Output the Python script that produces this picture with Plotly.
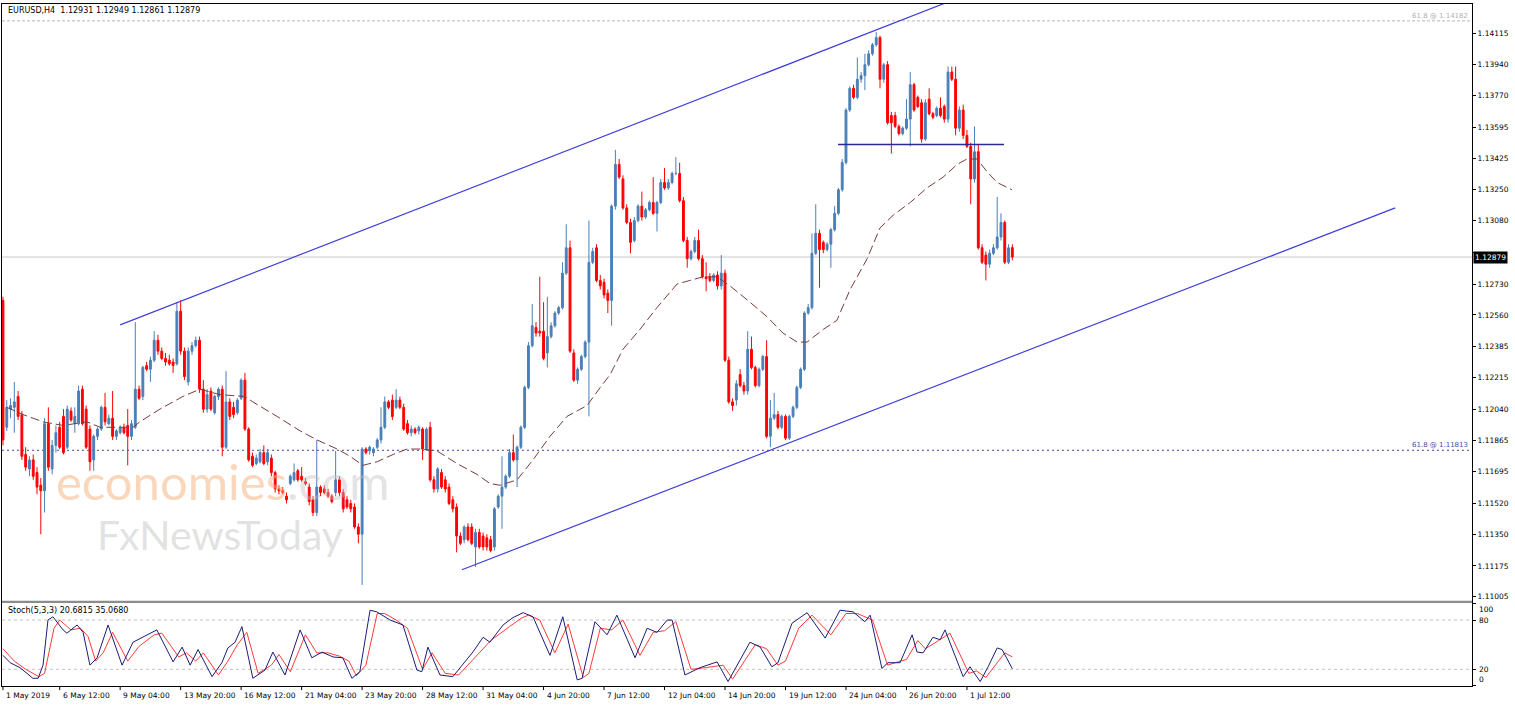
import plotly.graph_objects as go

# ---------------- data ----------------
title_text = "EURUSD,H4\u00a0\u00a01.12931 1.12949 1.12861 1.12879"
stoch_title = "Stoch(5,3,3) 20.6815 35.0680"
last_price = 1.12879
fib_top = 1.14182
fib_low = 1.11813
support_level = 1.1350

opens = [
1.1264,1.1194,1.1204,1.1205,1.1211,1.1201,1.1179,1.1171,1.1176,1.1169,
1.1162,1.1159,1.1196,1.1171,1.1184,1.1194,1.1200,1.1183,1.1203,1.1196,
1.1196,1.1215,1.1204,1.1193,1.1176,1.1189,1.1193,1.1205,1.1196,1.1199,
1.1189,1.1191,1.1194,1.1195,1.1189,1.1194,1.1215,1.1211,1.1228,1.1226,
1.1231,1.1242,1.1236,1.1232,1.1231,1.1230,1.1229,1.1258,1.1236,1.1219,
1.1236,1.1239,1.1242,1.1215,1.1204,1.1214,1.1202,1.1211,1.1215,1.1183,
1.1208,1.1205,1.1202,1.1210,1.1220,1.1193,1.1178,1.1174,1.1175,1.1180,
1.1175,1.1177,1.1169,1.1160,1.1159,1.1156,1.1163,1.1165,1.1170,1.1167,
1.1164,1.1161,1.1154,1.1147,1.1161,1.1160,1.1158,1.1156,1.1158,1.1165,
1.1158,1.1154,1.1152,1.1150,1.1139,1.1135,1.1182,1.1181,1.1180,1.1183,
1.1187,1.1194,1.1208,1.1209,1.1205,1.1209,1.1205,1.1196,1.1191,1.1193,
1.1192,1.1193,1.1182,1.1194,1.1165,1.1160,1.1169,1.1165,1.1161,1.1154,
1.1150,1.1134,1.1132,1.1139,1.1139,1.1128,1.1136,1.1134,1.1133,1.1132,
1.1128,1.1150,1.1156,1.1161,1.1167,1.1180,1.1176,1.1183,1.1194,1.1216,
1.1239,1.1249,1.1247,1.1247,1.1235,1.1244,1.1250,1.1257,1.1260,1.1279,
1.1293,1.1235,1.1220,1.1226,1.1233,1.1241,1.1285,1.1293,1.1275,1.1274,
1.1268,1.1264,1.1316,1.1339,1.1331,1.1315,1.1307,1.1297,1.1308,1.1316,
1.1310,1.1314,1.1318,1.1312,1.1318,1.1329,1.1326,1.1329,1.1334,1.1334,
1.1319,1.1297,1.1287,1.1291,1.1297,1.1287,1.1277,1.1277,1.1275,1.1278,
1.1272,1.1279,1.1231,1.1208,1.1209,1.1223,1.1217,1.1214,1.1237,1.1227,
1.1217,1.1226,1.1233,1.1189,1.1199,1.1201,1.1194,1.1200,1.1188,1.1200,
1.1205,1.1216,1.1226,1.1257,1.1260,1.1290,1.1301,1.1296,1.1292,1.1295,
1.1303,1.1312,1.1325,1.1340,1.1369,1.1381,1.1376,1.1386,1.1388,1.1394,
1.1400,1.1405,1.1409,1.1386,1.1394,1.1366,1.1366,1.1360,1.1356,1.1359,
1.1364,1.1383,1.1376,1.1373,1.1353,1.1375,1.1367,1.1366,1.1370,1.1371,
1.1364,1.1390,1.1386,1.1359,1.1369,1.1355,1.1349,1.1331,1.1346,1.1293,
1.1289,1.1284,1.1290,1.1293,1.1299,1.1307,1.1285,1.12931]

highs = [
1.1266,1.1209,1.1210,1.1219,1.1214,1.1203,1.1183,1.1178,1.1179,1.1172,
1.1166,1.1199,1.1205,1.1187,1.1195,1.1197,1.1204,1.1206,1.1205,1.1205,
1.1217,1.1217,1.1206,1.1195,1.1190,1.1194,1.1206,1.1213,1.1201,1.1214,
1.1193,1.1195,1.1196,1.1204,1.1198,1.1252,1.1217,1.1228,1.1230,1.1233,
1.1247,1.1245,1.1238,1.1235,1.1234,1.1232,1.1263,1.1264,1.1238,1.1238,
1.1241,1.1244,1.1244,1.1220,1.1215,1.1216,1.1212,1.1216,1.1217,1.1225,
1.1210,1.1208,1.1210,1.1221,1.1224,1.1194,1.1180,1.1179,1.1182,1.1184,
1.1182,1.1179,1.1170,1.1162,1.1161,1.1158,1.1168,1.1174,1.1171,1.1172,
1.1166,1.1163,1.1156,1.1187,1.1162,1.1162,1.1160,1.1157,1.1181,1.1167,
1.1160,1.1156,1.1154,1.1152,1.1141,1.1183,1.1183,1.1184,1.1183,1.1188,
1.1205,1.1211,1.1209,1.1212,1.1215,1.1211,1.1207,1.1198,1.1195,1.1194,
1.1195,1.1194,1.1194,1.1197,1.1167,1.1172,1.1171,1.1167,1.1163,1.1156,
1.1152,1.1136,1.1140,1.1141,1.1141,1.1138,1.1138,1.1136,1.1135,1.1134,
1.1150,1.1157,1.1178,1.1168,1.1182,1.1190,1.1184,1.1195,1.1217,1.1241,
1.1262,1.1252,1.1277,1.1263,1.1266,1.1252,1.1258,1.1261,1.1285,1.1306,
1.1297,1.1237,1.1227,1.1234,1.1242,1.1308,1.1293,1.1295,1.1278,1.1276,
1.1270,1.1317,1.1347,1.1342,1.1333,1.1317,1.1309,1.1310,1.1317,1.1324,
1.1315,1.1319,1.1332,1.1319,1.1331,1.1337,1.1331,1.1335,1.1343,1.1340,
1.1321,1.1299,1.1292,1.1299,1.1303,1.1289,1.1285,1.1279,1.1279,1.1280,
1.1289,1.1281,1.1233,1.1210,1.1220,1.1226,1.1219,1.1247,1.1244,1.1228,
1.1227,1.1234,1.1242,1.1209,1.1213,1.1203,1.1201,1.1201,1.1201,1.1206,
1.1217,1.1227,1.1258,1.1262,1.1301,1.1317,1.1303,1.1297,1.1296,1.1304,
1.1316,1.1326,1.1342,1.1370,1.1382,1.1383,1.1398,1.1390,1.1400,1.1402,
1.1406,1.1412,1.1410,1.1395,1.1396,1.1368,1.1368,1.1361,1.1360,1.1375,
1.1390,1.1384,1.1377,1.1375,1.1375,1.1381,1.1368,1.1371,1.1376,1.1372,
1.1393,1.1393,1.1393,1.1371,1.1372,1.1358,1.1351,1.1360,1.1350,1.1295,
1.1291,1.1292,1.1295,1.1321,1.1312,1.1308,1.1295,1.12949]

lows = [
1.1184,1.1192,1.1199,1.1191,1.1198,1.1176,1.1170,1.1167,1.1165,1.1157,
1.1135,1.1147,1.1170,1.1168,1.1180,1.1182,1.1179,1.1182,1.1197,1.1191,
1.1195,1.1195,1.1182,1.1170,1.1170,1.1187,1.1192,1.1195,1.1195,1.1187,
1.1187,1.1190,1.1190,1.1173,1.1187,1.1193,1.1209,1.1209,1.1225,1.1219,
1.1230,1.1234,1.1231,1.1228,1.1228,1.1224,1.1228,1.1234,1.1220,1.1217,
1.1234,1.1238,1.1213,1.1202,1.1202,1.1203,1.1201,1.1209,1.1178,1.1182,
1.1198,1.1199,1.1201,1.1209,1.1192,1.1175,1.1172,1.1173,1.1174,1.1173,
1.1173,1.1167,1.1158,1.1157,1.1157,1.1152,1.1162,1.1164,1.1164,1.1164,
1.1162,1.1151,1.1145,1.1145,1.1156,1.1157,1.1155,1.1152,1.1156,1.1156,
1.1147,1.1149,1.1147,1.1138,1.1130,1.1107,1.1179,1.1179,1.1178,1.1182,
1.1185,1.1193,1.1204,1.1198,1.1204,1.1204,1.1192,1.1190,1.1189,1.1190,
1.1190,1.1176,1.1181,1.1164,1.1158,1.1158,1.1160,1.1158,1.1151,1.1147,
1.1125,1.1129,1.1130,1.1131,1.1129,1.1117,1.1127,1.1126,1.1126,1.1125,
1.1126,1.1149,1.1138,1.1160,1.1166,1.1175,1.1161,1.1182,1.1193,1.1215,
1.1238,1.1244,1.1244,1.1231,1.1227,1.1243,1.1249,1.1256,1.1259,1.1278,
1.1235,1.1219,1.1218,1.1225,1.1232,1.1200,1.1284,1.1274,1.1270,1.1265,
1.1257,1.1250,1.1314,1.1331,1.1314,1.1306,1.1290,1.1296,1.1307,1.1308,
1.1309,1.1313,1.1311,1.1302,1.1317,1.1325,1.1325,1.1328,1.1333,1.1318,
1.1296,1.1282,1.1286,1.1290,1.1286,1.1276,1.1269,1.1274,1.1274,1.1270,
1.1270,1.1230,1.1207,1.1203,1.1206,1.1216,1.1212,1.1212,1.1226,1.1216,
1.1216,1.1225,1.1188,1.1183,1.1198,1.1193,1.1193,1.1187,1.1187,1.1199,
1.1204,1.1215,1.1225,1.1256,1.1259,1.1289,1.1271,1.1290,1.1291,1.1282,
1.1302,1.1311,1.1324,1.1339,1.1368,1.1375,1.1375,1.1384,1.1380,1.1393,
1.1399,1.1404,1.1381,1.1384,1.1361,1.1345,1.1359,1.1355,1.1355,1.1358,
1.1349,1.1368,1.1370,1.1351,1.1352,1.1366,1.1364,1.1365,1.1365,1.1362,
1.1362,1.1385,1.1355,1.1357,1.1353,1.1348,1.1317,1.1329,1.1292,1.1284,
1.1275,1.1282,1.1289,1.1292,1.1297,1.1284,1.1284,1.12861]

closes = [
1.1187,1.1205,1.1206,1.1208,1.1200,1.1178,1.1172,1.1176,1.1167,1.1161,
1.1159,1.1196,1.1172,1.1184,1.1191,1.1183,1.1180,1.1204,1.1198,1.1200,
1.1214,1.1196,1.1183,1.1175,1.1189,1.1193,1.1205,1.1197,1.1199,1.1189,
1.1192,1.1194,1.1191,1.1189,1.1196,1.1215,1.1210,1.1227,1.1226,1.1231,
1.1242,1.1236,1.1232,1.1230,1.1229,1.1228,1.1258,1.1236,1.1222,1.1236,
1.1239,1.1242,1.1215,1.1204,1.1212,1.1204,1.1211,1.1215,1.1183,1.1208,
1.1200,1.1201,1.1209,1.1220,1.1193,1.1176,1.1173,1.1177,1.1180,1.1174,
1.1180,1.1169,1.1160,1.1159,1.1158,1.1154,1.1167,1.1169,1.1165,1.1165,
1.1163,1.1153,1.1147,1.1161,1.1158,1.1158,1.1156,1.1153,1.1165,1.1158,
1.1149,1.1150,1.1149,1.1139,1.1135,1.1182,1.1180,1.1183,1.1182,1.1187,
1.1194,1.1208,1.1205,1.1200,1.1209,1.1205,1.1193,1.1191,1.1193,1.1191,
1.1194,1.1182,1.1193,1.1165,1.1160,1.1171,1.1161,1.1160,1.1152,1.1149,
1.1134,1.1130,1.1139,1.1132,1.1130,1.1136,1.1128,1.1128,1.1128,1.1126,
1.1149,1.1156,1.1161,1.1167,1.1180,1.1176,1.1183,1.1194,1.1216,1.1239,
1.1250,1.1246,1.1246,1.1232,1.1244,1.1250,1.1257,1.1260,1.1279,1.1293,
1.1236,1.1220,1.1226,1.1233,1.1241,1.1285,1.1291,1.1275,1.1272,1.1267,
1.1264,1.1316,1.1339,1.1332,1.1315,1.1307,1.1296,1.1308,1.1316,1.1310,
1.1314,1.1318,1.1312,1.1318,1.1329,1.1326,1.1329,1.1334,1.1334,1.1319,
1.1297,1.1287,1.1291,1.1297,1.1287,1.1277,1.1276,1.1275,1.1278,1.1272,
1.1279,1.1231,1.1208,1.1206,1.1218,1.1217,1.1214,1.1237,1.1227,1.1217,
1.1226,1.1233,1.1189,1.1199,1.1201,1.1194,1.1200,1.1188,1.1200,1.1205,
1.1216,1.1226,1.1257,1.1260,1.1290,1.1301,1.1292,1.1292,1.1295,1.1303,
1.1312,1.1325,1.1340,1.1369,1.1381,1.1376,1.1386,1.1388,1.1394,1.1400,
1.1405,1.1409,1.1386,1.1394,1.1362,1.1362,1.1360,1.1356,1.1359,1.1364,
1.1383,1.1369,1.1371,1.1353,1.1373,1.1367,1.1365,1.1370,1.1366,1.1364,
1.1390,1.1386,1.1359,1.1369,1.1355,1.1349,1.1331,1.1346,1.1293,1.1285,
1.1284,1.1290,1.1293,1.1299,1.1307,1.1285,1.1293,1.12879]

# dashed moving average (bar position, value)
ma_bar = [1, 5.3, 10.6, 15.9, 22.2, 25.7, 34.4, 36.2, 41.5, 47.6, 52.1, 57.4, 64, 66.1, 72.5, 78.6,
          83.1, 88.4, 91.8, 95.2, 99, 103.2, 106.9, 110.3, 114.8, 120.1, 125.4, 128.8, 131.5, 136,
          140.2, 144.7, 149.2, 154.5, 158, 160.6, 164, 168.5, 173, 178.3, 181.7, 185.2, 188.9,
          192.3, 197.6, 202.1, 206.3, 210.1, 212.7, 217, 220.6, 224.1, 228.6, 232, 235.5, 240,
          244.4, 248.7, 252.4, 255, 257.7, 260.3, 263, 266.9]
ma_val = [1.1205, 1.1201, 1.1197, 1.1195, 1.1197, 1.1194, 1.1194, 1.1197, 1.1204, 1.1211, 1.1215,
          1.1212, 1.1211, 1.1208, 1.1200, 1.1192, 1.1187, 1.1182, 1.1178, 1.1173, 1.1175, 1.1179,
          1.1182, 1.1182, 1.1181, 1.1174, 1.1168, 1.1163, 1.1162, 1.1165, 1.1176, 1.1189, 1.1200,
          1.1206, 1.1216, 1.1223, 1.1237, 1.1248, 1.1260, 1.1273, 1.1275, 1.1277, 1.1277, 1.1272,
          1.1263, 1.1255, 1.1246, 1.1241, 1.1241, 1.1248, 1.1253, 1.1270, 1.1287, 1.1304, 1.1311,
          1.1318, 1.1326, 1.1332, 1.1339, 1.1342, 1.1342, 1.1335, 1.1329, 1.1325]

# trend lines (bar position, price)
upper_bar = [31.0, 249.2]
upper_val = [1.12505, 1.14280]
lower_bar = [121.4, 368.3]
lower_val = [1.11154, 1.13150]
support_bar = [220.9, 264.8]

# stochastic %K (main) and %D (signal)
k_bar = [0, 1.9, 4.5, 7.9, 9.3, 10.6, 11.9, 13.2, 15.9, 16.9, 19.6, 21.2, 23, 24.9, 27.8, 31.5,
         34.4, 38.1, 40.7, 45, 47.4, 49.5, 51.6, 55.3, 57.9, 59.5, 61.4, 63.2, 66.1, 69.3, 71.4,
         74.6, 78.6, 81.7, 84.4, 87.3, 89.9, 92.3, 94.4, 97.1, 98.9, 102.4, 105.8, 109.5, 110.8,
         112.4, 115.6, 119, 124.3, 127, 128.8, 132.3, 134.9, 137.6, 140.2, 144.7, 148.1, 151.9,
         153.2, 156.6, 159.8, 162.4, 167.2, 170.4, 173, 175.7, 177, 180.4, 184.4, 188.9, 191.8,
         197.6, 200.3, 203.4, 205, 208.7, 212.7, 217.5, 221.4, 224.9, 228, 229.4, 232.5, 234.1,
         237.3, 240.5, 241.8, 243.4, 246, 247.9, 249.2, 254, 255.8, 258.5, 260.6, 263, 264.3, 267]
k_val = [37, 28, 22, 9, 9, 25, 80, 84, 68, 64, 74, 65, 25, 34, 74, 25, 53, 62, 68, 29, 47, 25, 44,
         11, 28, 46, 53, 72, 9, 19, 41, 13, 68, 34, 41, 35, 34, 9, 17, 92, 90, 80, 74, 19, 17, 47,
         13, 11, 41, 59, 53, 74, 83, 89, 84, 37, 84, 7, 9, 78, 62, 86, 34, 70, 65, 80, 80, 13, 22,
         29, 5, 53, 47, 23, 28, 76, 89, 58, 92, 90, 78, 86, 21, 28, 28, 62, 41, 40, 59, 56, 68, 11,
         23, 5, 23, 46, 44, 20.68]
d_bar = [0, 3, 6, 9.5, 11, 13.5, 15, 18, 20.5, 22.5, 24.5, 26.5, 29, 33, 36, 40, 42, 46.5, 48.5,
         51, 53, 57, 59.5, 62, 64.5, 67.5, 71, 73, 76, 80, 83, 86, 89, 91.5, 93.5, 96, 99, 101,
         104, 107, 111, 113.5, 117, 120.5, 126, 129, 134, 137, 139, 142, 146, 149.5, 153.5, 155,
         158, 161, 164, 168.5, 172, 175, 178, 182, 186, 190.5, 193, 199, 202, 205, 207, 210.5,
         214, 219, 223, 226, 230, 234, 236, 239, 242, 244, 247.5, 250.5, 255.5, 257.5, 260,
         262.5, 265, 267]
d_val = [45, 30, 20, 11, 15, 70, 80, 68, 70, 60, 30, 40, 65, 30, 48, 62, 64, 35, 40, 30, 40, 13,
         30, 50, 65, 15, 25, 38, 17, 62, 40, 40, 36, 30, 12, 25, 88, 88, 80, 70, 20, 40, 15, 13,
         40, 55, 72, 82, 86, 80, 40, 75, 10, 15, 70, 68, 80, 37, 65, 67, 78, 20, 22, 25, 8, 50,
         45, 25, 30, 70, 86, 62, 88, 88, 80, 25, 28, 32, 55, 45, 55, 64, 15, 18, 10, 25, 40, 35.07]

price_ticks = [1.14115, 1.13940, 1.13770, 1.13595, 1.13425, 1.13250, 1.13080, 1.12905, 1.12730,
               1.12560, 1.12385, 1.12215, 1.12040, 1.11865, 1.11695, 1.11520, 1.11350, 1.11175,
               1.11005]
hidden_tick = 1.12905   # its label sits under the current-price box in the reference
time_tick_bar = [0, 15, 31, 47, 63, 79, 95, 111, 127, 143, 159, 175, 191, 207, 223, 239, 255]
time_tick_text = ["1 May 2019", "6 May 12:00", "9 May 04:00", "13 May 20:00", "16 May 12:00",
                  "21 May 04:00", "23 May 20:00", "28 May 12:00", "31 May 04:00", "4 Jun 20:00",
                  "7 Jun 12:00", "12 Jun 04:00", "14 Jun 20:00", "19 Jun 12:00", "24 Jun 04:00",
                  "26 Jun 20:00", "1 Jul 12:00"]
stoch_levels = [20, 80]
stoch_labels = [("100", 93), ("80", 80), ("20", 20), ("0", 7)]

# ---------------- figure ----------------
BULL = "#4a7fb8"
BEAR = "#ff0000"
FONT = "DejaVu Sans"
bars = list(range(len(closes)))

fig = go.Figure()
fig.add_trace(go.Candlestick(
    x=bars, open=opens, high=highs, low=lows, close=closes,
    increasing=dict(line=dict(color=BULL, width=1), fillcolor=BULL),
    decreasing=dict(line=dict(color=BEAR, width=1), fillcolor=BEAR),
    whiskerwidth=0, showlegend=False, hoverinfo="skip", xaxis="x", yaxis="y"))

fig.add_trace(go.Scatter(x=ma_bar, y=ma_val, mode="lines",
                         line=dict(color="#7a3c3c", width=1, dash="9px,4px"),
                         showlegend=False, hoverinfo="skip", xaxis="x", yaxis="y"))
fig.add_trace(go.Scatter(x=upper_bar, y=upper_val, mode="lines",
                         line=dict(color="#3f3fd8", width=1.2),
                         showlegend=False, hoverinfo="skip", xaxis="x", yaxis="y"))
fig.add_trace(go.Scatter(x=lower_bar, y=lower_val, mode="lines",
                         line=dict(color="#3f3fd8", width=1.2),
                         showlegend=False, hoverinfo="skip", xaxis="x", yaxis="y"))
fig.add_trace(go.Scatter(x=support_bar, y=[support_level, support_level], mode="lines",
                         line=dict(color="#2a2a90", width=1.3),
                         showlegend=False, hoverinfo="skip", xaxis="x", yaxis="y"))

fig.add_trace(go.Scatter(x=d_bar, y=d_val, mode="lines",
                         line=dict(color="#ff3b3b", width=1),
                         showlegend=False, hoverinfo="skip", xaxis="x2", yaxis="y2"))
fig.add_trace(go.Scatter(x=k_bar, y=k_val, mode="lines",
                         line=dict(color="#1c1c78", width=1),
                         showlegend=False, hoverinfo="skip", xaxis="x2", yaxis="y2"))

XR = [-0.26, 388.6]
shapes = [
    dict(type="line", xref="paper", yref="y", x0=0, x1=1, y0=fib_top, y1=fib_top,
         line=dict(color="#b8b8b8", width=1, dash="3px,2px"), layer="below"),
    dict(type="line", xref="paper", yref="y", x0=0, x1=1, y0=fib_low, y1=fib_low,
         line=dict(color="#4444aa", width=1, dash="2px,3px"), layer="below"),
    dict(type="line", xref="paper", yref="y", x0=0, x1=1, y0=last_price, y1=last_price,
         line=dict(color="#c8c8c8", width=1), layer="below"),
    dict(type="rect", xref="paper", yref="paper", x0=0, x1=1, y0=0.1217, y1=0.1250,
         fillcolor="#8c8c8c", line=dict(width=0)),
]
for lv in stoch_levels:
    shapes.append(dict(type="line", xref="paper", yref="y2", x0=0, x1=1, y0=lv, y1=lv,
                       line=dict(color="#c0c0c0", width=1, dash="3px,3px"), layer="below"))
for b in time_tick_bar:
    shapes.append(dict(type="line", xref="x2", yref="paper", x0=b, x1=b, y0=0, y1=-0.006,
                       line=dict(color="black", width=1)))

annotations = [
    dict(text=title_text, xref="paper", yref="paper", x=0.0027, y=0.9912, xanchor="left",
         yanchor="middle", showarrow=False, font=dict(family=FONT, size=8, color="black")),
    dict(text=stoch_title, xref="paper", yref="paper", x=0.0027, y=0.110, xanchor="left",
         yanchor="middle", showarrow=False, font=dict(family=FONT, size=8, color="black")),
    dict(text="61.8 @ 1.14182", xref="paper", yref="y", x=0.9985, y=fib_top, xanchor="right",
         yanchor="bottom", showarrow=False, yshift=-1,
         font=dict(family=FONT, size=7, color="#b0b0b0")),
    dict(text="61.8 @ 1.11813", xref="paper", yref="y", x=0.9985, y=fib_low, xanchor="right",
         yanchor="bottom", showarrow=False, yshift=-1,
         font=dict(family=FONT, size=7, color="#4848b0")),
    dict(text="1.12879", xref="paper", yref="y", x=1.0, y=last_price, xanchor="left",
         yanchor="middle", showarrow=False, xshift=1, bgcolor="black", borderpad=1,
         font=dict(family=FONT, size=7.5, color="white")),
    dict(text="<span style='color:rgba(246,176,120,0.5)'>economies</span>"
              "<span style='color:rgba(190,190,190,0.42)'>.com</span>",
         xref="paper", yref="paper", x=0.150, y=0.301, xanchor="center", yanchor="middle",
         showarrow=False, font=dict(family="Lato", size=49)),
    dict(text="FxNewsToday", xref="paper", yref="paper", x=0.148, y=0.222, xanchor="center",
         yanchor="middle", showarrow=False,
         font=dict(family="Lato", size=41, color="rgba(185,185,185,0.42)")),
]
for b, t in zip(time_tick_bar, time_tick_text):
    annotations.append(dict(text=t, xref="x2", yref="paper", x=b, y=-0.004, xanchor="left",
                            yanchor="top", showarrow=False, xshift=1,
                            font=dict(family=FONT, size=7.5, color="black")))
for t, v in stoch_labels:
    annotations.append(dict(text=t, xref="paper", yref="y2", x=1.0, y=v, xanchor="left",
                            yanchor="middle", showarrow=False, xshift=5,
                            font=dict(family=FONT, size=7.5, color="black")))

fig.update_layout(
    width=1515, height=706,
    margin=dict(l=2, r=43, t=4, b=20),
    paper_bgcolor="white", plot_bgcolor="white",
    showlegend=False,
    xaxis=dict(domain=[0, 1], anchor="y", range=XR, showticklabels=False, showgrid=False,
               zeroline=False, showline=True, mirror=True, linecolor="black", linewidth=1,
               rangeslider=dict(visible=False), fixedrange=True),
    yaxis=dict(domain=[0.1250, 1], anchor="x", range=[1.10983, 1.14275], side="right",
               tickmode="array", tickvals=price_ticks,
               ticktext=["" if v == hidden_tick else f"{v:.5f}" for v in price_ticks],
               ticks="outside", ticklen=3, tickcolor="black", showgrid=False, zeroline=False,
               showline=True, mirror=True, linecolor="black", linewidth=1,
               tickfont=dict(family=FONT, size=7.5, color="black")),
    xaxis2=dict(domain=[0, 1], anchor="y2", range=XR, showticklabels=False, showgrid=False,
                zeroline=False, showline=True, mirror=True, linecolor="black", linewidth=1),
    yaxis2=dict(domain=[0, 0.1217], anchor="x2", range=[-0.4, 100.8], side="right",
                tickvals=[0, 20, 80, 100], showticklabels=False, ticks="outside", ticklen=3,
                tickcolor="black", showgrid=False, zeroline=False, showline=True, mirror=True,
                linecolor="black", linewidth=1),
    shapes=shapes,
    annotations=annotations,
)

fig.write_html("out.html", config={"displayModeBar": False},
               post_script="document.body.style.margin='0px';document.body.style.overflow='hidden';")
